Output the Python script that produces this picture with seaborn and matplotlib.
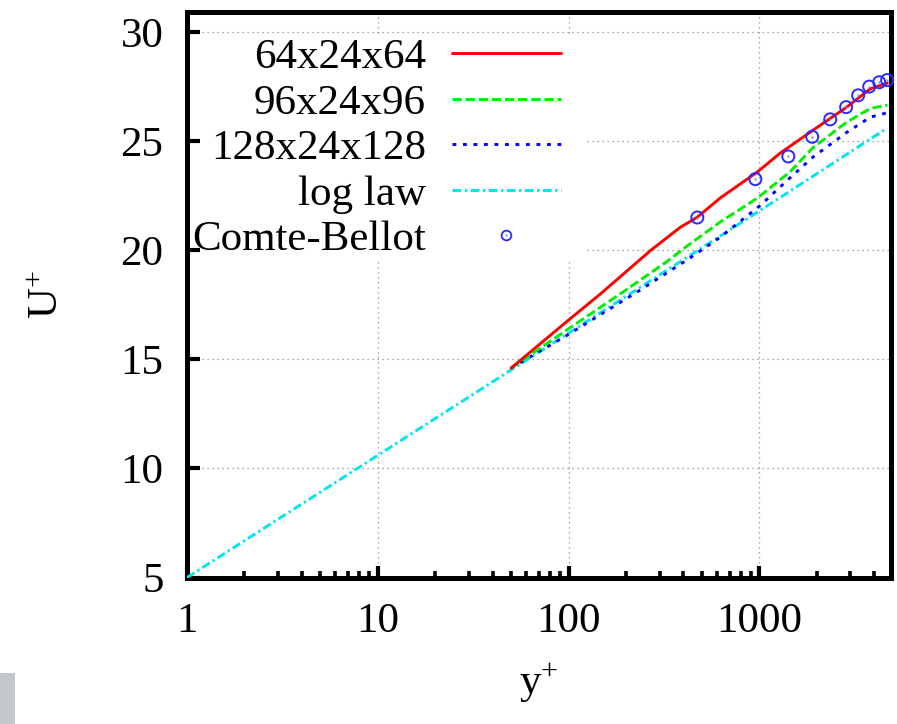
import matplotlib
matplotlib.use("Agg")
import matplotlib.pyplot as plt
import seaborn as sns
import pandas as pd
from matplotlib.patches import Rectangle
from matplotlib.lines import Line2D
from matplotlib.legend_handler import HandlerTuple
from matplotlib.ticker import LogLocator, FixedLocator, NullFormatter

# ---- data ----
red_yp = [50, 100, 147, 270, 385, 470, 625, 980, 1285, 1910, 2870, 3815, 4680]
red_u = [14.6, 16.8, 18.0, 20.0, 21.05, 21.5, 22.4, 23.6, 24.45, 25.5, 26.56, 27.4, 27.66]

green_yp = [50, 98, 194, 330, 419, 625, 980, 1450, 1910, 2870, 3815, 4680]
green_u = [14.6, 16.35, 18.1, 19.5, 20.2, 21.3, 22.4, 23.6, 24.7, 25.87, 26.5, 26.65]

blue_yp = [50, 98, 230, 425, 625, 1010, 1400, 1910, 2870, 3815, 4680]
blue_u = [14.6, 16.1, 18.1, 19.6, 20.6, 22.05, 23.2, 24.27, 25.4, 26.1, 26.3]

log_yp = [1, 10, 100, 1000, 4680]
log_u = [5.0, 10.6, 16.2, 21.8, 25.6]

cb_yp = [473, 953, 1419, 1893, 2353, 2851, 3297, 3767, 4250, 4677]
cb_u = [21.5, 23.26, 24.3, 25.2, 26.0, 26.56, 27.1, 27.5, 27.7, 27.8]

labels = ["64x24x64", "96x24x96", "128x24x128", "log law", "Comte-Bellot"]
x_ticks = [1, 10, 100, 1000]
x_ticklabels = ["1", "10", "100", "1000"]
y_ticks = [5, 10, 15, 20, 25, 30]

# ---- style ----
sns.set_style("white")
plt.rcParams["font.family"] = ["Liberation Serif", "DejaVu Serif"]
plt.rcParams["mathtext.fontset"] = "custom"
plt.rcParams["mathtext.rm"] = "Liberation Serif"
plt.rcParams["mathtext.default"] = "regular"
plt.rcParams["text.color"] = "black"
plt.rcParams["axes.labelcolor"] = "black"
plt.rcParams["xtick.color"] = "black"
plt.rcParams["ytick.color"] = "black"

FS = 31
fig = plt.figure(figsize=(8.97, 7.24), dpi=100)
ax = fig.add_axes([187 / 897, 1 - 577.5 / 724, (891 - 187) / 897, (577.5 - 12) / 724])

RED = "#ff0000"
GREEN = "#00f000"
BLUE = "#0000ff"
CYAN = "#00e6ec"
LW = 2.1
DASH_G = (0, (3.2, 1.3))
DOT_B = (0, (1.3, 2.3))
DASHDOT_C = (0, (3.0, 1.2, 0.8, 1.2))

df_red = pd.DataFrame({"y": red_yp, "u": red_u})
df_green = pd.DataFrame({"y": green_yp, "u": green_u})
df_blue = pd.DataFrame({"y": blue_yp, "u": blue_u})
df_log = pd.DataFrame({"y": log_yp, "u": log_u})
df_cb = pd.DataFrame({"y": cb_yp, "u": cb_u})

sns.lineplot(data=df_log, x="y", y="u", ax=ax, color=CYAN, lw=LW,
             linestyle=DASHDOT_C, estimator=None, sort=False, zorder=3)
sns.lineplot(data=df_blue, x="y", y="u", ax=ax, color=BLUE, lw=LW,
             linestyle=DOT_B, estimator=None, sort=False, zorder=4)
sns.lineplot(data=df_green, x="y", y="u", ax=ax, color=GREEN, lw=LW,
             linestyle=DASH_G, estimator=None, sort=False, zorder=5)
sns.lineplot(data=df_red, x="y", y="u", ax=ax, color=RED, lw=LW,
             estimator=None, sort=False, zorder=6)
sns.scatterplot(data=df_cb, x="y", y="u", ax=ax, marker="o", s=75,
                facecolors="none", edgecolors="#2a2aff", linewidths=1.4, zorder=7, clip_on=False)
ax.plot(cb_yp, cb_u, linestyle="none", marker="o", ms=1.6, color="#8080ff",
        mec="none", zorder=8, clip_on=False)

ax.set_xscale("log")
ax.set_xlim(1, 4900)
ax.set_ylim(5, 30.92)

ax.xaxis.set_major_locator(FixedLocator(x_ticks))
ax.set_xticklabels(x_ticklabels)
ax.xaxis.set_minor_locator(LogLocator(base=10, subs=range(2, 10), numticks=20))
ax.xaxis.set_minor_formatter(NullFormatter())
ax.set_yticks(y_ticks)
ax.set_yticklabels([str(v) for v in y_ticks])

for sp in ax.spines.values():
    sp.set_linewidth(3.6)
    sp.set_color("black")

ax.tick_params(axis="both", which="major", direction="in", length=9, width=3.0,
               labelsize=FS, colors="black")
ax.tick_params(axis="x", which="major", pad=18)
ax.tick_params(axis="y", which="major", pad=17)
ax.tick_params(axis="x", which="minor", direction="in", length=5, width=2.6,
               bottom=True, top=False)
ax.tick_params(top=False, right=False, left=True, bottom=True)

# dotted grid at major ticks (drawn below everything)
grid_kw = dict(color="#8a8a8a", linewidth=0.9, linestyle=(0, (1.0, 3.0)), zorder=0.3)
ax.grid(False)
for xv in x_ticks[1:]:
    ax.axvline(xv, **grid_kw)
for yv in y_ticks[1:]:
    ax.axhline(yv, **grid_kw)

# opaque key area (covers the grid, not the ticks)
ax.add_patch(Rectangle((0, (577.5 - 262) / 565.5), (587 - 187) / 704,
                       (262 - 34) / 565.5, transform=ax.transAxes,
                       facecolor="white", edgecolor="none", zorder=0.4))

ax.set_xlabel("y$^{+}$", fontsize=FS)
ax.set_ylabel("U$^{+}$", fontsize=FS)
ax.xaxis.set_label_coords(0.5, -0.15)
ax.yaxis.set_label_coords(-0.17, 0.5)

# legend (gnuplot style: right-aligned text, sample after)
h_red = Line2D([], [], color=RED, lw=LW)
h_green = Line2D([], [], color=GREEN, lw=LW, linestyle=DASH_G)
h_blue = Line2D([], [], color=BLUE, lw=LW, linestyle=DOT_B)
h_log = Line2D([], [], color=CYAN, lw=LW, linestyle=DASHDOT_C)
h_c1 = Line2D([], [], color="#2a2aff", marker="o", ms=7.0, mfc="none", mew=1.3, linestyle="none")
h_c2 = Line2D([], [], color="#8080ff", marker="o", ms=1.5, mec="none", linestyle="none")
leg = ax.legend([h_red, h_green, h_blue, h_log, (h_c1, h_c2)], labels,
                handler_map={tuple: HandlerTuple(ndivide=1, pad=0)},
                loc="upper right", bbox_to_anchor=((570 - 187) / 704, 0.9695),
                markerfirst=False, frameon=False, fontsize=FS, handlelength=2.55,
                handletextpad=0.6, labelspacing=0.15, borderpad=0.2,
                borderaxespad=0.0)
leg.set_zorder(9)

# grey artifact block at bottom-left
fig.patches.append(Rectangle((0, 0), 15 / 897, 51 / 724, transform=fig.transFigure,
                             facecolor="#c3c8cc", edgecolor="none"))

fig.savefig("out.png", dpi=100)
